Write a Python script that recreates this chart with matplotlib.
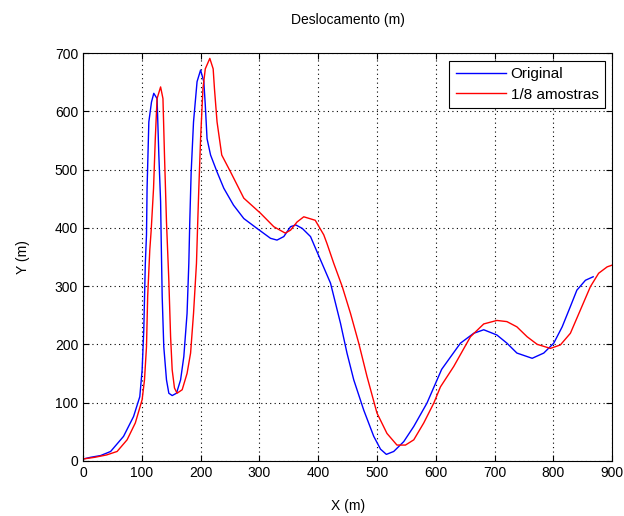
import matplotlib
matplotlib.use('Agg')
import matplotlib.pyplot as plt

# Original trajectory (X, Y in metres)
x_orig = [0, 13, 30, 47, 69, 86, 96.6, 100.6, 103.4, 106, 108, 109, 112, 116.5, 120.4,
          126, 129, 132, 133, 134.7, 137.4, 142, 146, 151.7, 159, 166, 171.5, 177, 180,
          181.6, 184, 188, 194, 200, 205.5, 208, 211, 217, 228, 239.5, 256, 273.5, 296,
          319, 330, 341.5, 353, 362, 373, 387, 398, 421, 438, 449, 460.5, 477.5, 494.5,
          506, 516, 528.5, 545.6, 562.6, 585, 610, 642, 664.6, 681.6, 704, 721, 738,
          764, 783.7, 800.7, 815, 829, 840, 854.6, 867.7]
y_orig = [3, 6, 9, 16, 42, 76, 110, 156, 225, 339, 388, 468, 582, 616, 631,
          622, 525, 445, 380, 282, 196, 139, 116, 112, 116, 139, 179, 253, 339,
          410, 496, 582, 651, 671, 651, 611, 553, 525, 496, 468, 439, 416, 399,
          382, 379, 385, 402, 405, 399, 385, 359, 305, 236, 185, 139, 87, 42,
          20, 11, 16, 33, 59, 99, 157, 202, 219, 225, 216, 202, 185,
          176, 185, 202, 230, 265, 293, 310, 316]

# 1/8 samples trajectory
x_sub = [0, 20, 40, 58, 75, 89, 100.6, 104.6, 108, 110, 113.6, 116, 120, 123, 126,
         132, 136, 138.6, 142, 146, 149, 151.7, 155.6, 160, 168.7, 177, 183, 188, 193,
         195, 197, 200, 204, 208, 215.7, 221.4, 223.6, 228, 236, 251, 273.5, 302,
         324.5, 344, 353, 364, 375.5, 395, 409.5, 415, 426.5, 441, 455, 469, 483, 500,
         517, 534, 548.5, 562.6, 579.6, 596.6, 608, 630.6, 659, 681.6, 704, 721, 738,
         755.4, 772.4, 795, 812, 829, 846, 863, 877, 891.5, 900]
y_sub = [3, 6, 10, 16, 36, 65, 105, 139, 196, 282, 362, 396, 468, 554, 622,
         642, 622, 525, 410, 310, 213, 156, 125, 116, 122, 150, 185, 253, 339,
         405, 468, 553, 639, 673, 691, 673, 639, 582, 525, 496, 451, 425,
         402, 391, 396, 410, 419, 413, 388, 373, 339, 299, 253, 202, 145, 82,
         47, 27, 27, 36, 65, 99, 127, 162, 213, 235, 241, 239, 230,
         213, 200, 193, 199, 219, 259, 299, 322, 333, 336]

x_ticks = list(range(0, 901, 100))
y_ticks = list(range(0, 701, 100))

plt.rcParams['font.family'] = ['Liberation Sans', 'DejaVu Sans']
plt.rcParams['font.size'] = 10

fig = plt.figure(figsize=(6.24, 5.16), dpi=100)
ax = fig.add_axes([0.133, 0.107, 0.848, 0.790])

ax.plot(x_orig, y_orig, color='#0000ff', lw=1.0, label='Original')
ax.plot(x_sub, y_sub, color='#ff0000', lw=1.0, label='1/8 amostras')

ax.set_xlim(0, 900)
ax.set_ylim(0, 700)
ax.set_xticks(x_ticks)
ax.set_yticks(y_ticks)
ax.tick_params(direction='in', top=True, right=True, length=4, width=0.8, labelsize=10)
for s in ax.spines.values():
    s.set_linewidth(0.8)
ax.grid(True, color='black', linestyle=(0, (1, 3)), linewidth=0.8)

ax.set_title('Deslocamento (m)', fontsize=10, pad=21)
ax.set_xlabel('X (m)', fontsize=10, labelpad=14)
ax.set_ylabel('Y (m)', fontsize=10, labelpad=18)

leg = ax.legend(loc='upper right', fontsize=11, fancybox=False, framealpha=1,
                edgecolor='black', handlelength=3.3, handletextpad=0.3,
                borderaxespad=0.5, labelspacing=0.45)
leg.get_frame().set_linewidth(0.8)

fig.savefig('out.png', dpi=100)
